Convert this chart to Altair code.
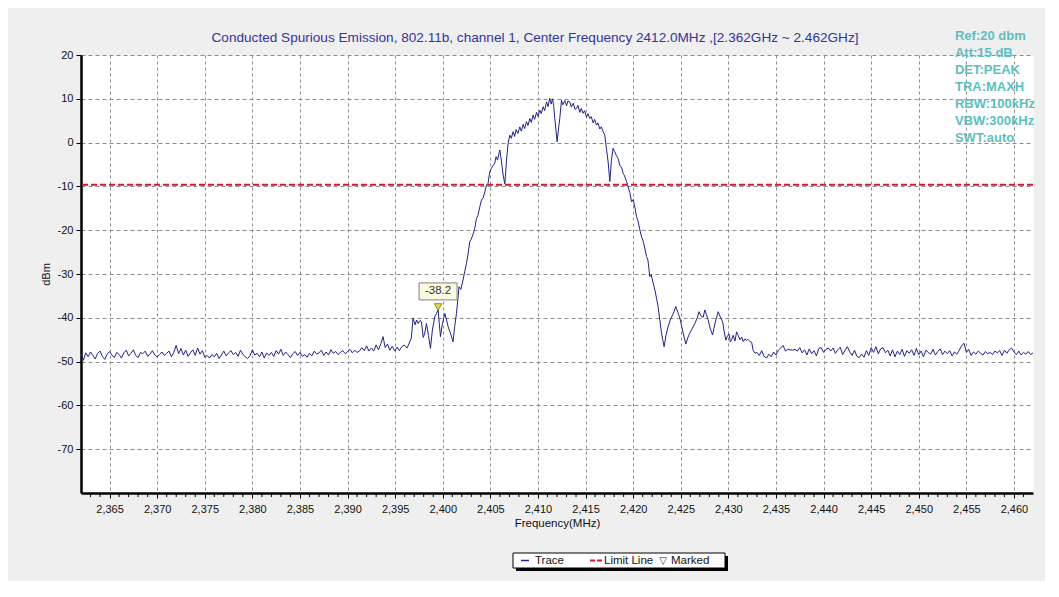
import altair as alt
import pandas as pd

# ---------------- text ----------------
TITLE = "Conducted Spurious Emission, 802.11b, channel 1, Center Frequency 2412.0MHz ,[2.362GHz ~ 2.462GHz]"
INFO_LINES = ["Ref:20 dbm", "Att:15 dB", "DET:PEAK", "TRA:MAXH", "RBW:100kHz", "VBW:300kHz", "SWT:auto"]
X_TITLE = "Frequency(MHz)"
Y_TITLE = "dBm"
LEGEND_LABELS = ["Trace", "Limit Line", "Marked"]

# ---------------- axes ----------------
F_DOMAIN = [2362, 2462]
DB_DOMAIN = [-80, 20]
X_TICKS = [2365, 2370, 2375, 2380, 2385, 2390, 2395, 2400, 2405, 2410,
           2415, 2420, 2425, 2430, 2435, 2440, 2445, 2450, 2455, 2460]
X_MINOR = [f for f in range(2363, 2462) if f % 5 != 0]
Y_TICKS = [20, 10, 0, -10, -20, -30, -40, -50, -60, -70]

# ---------------- limit / marker ----------------
LIMIT_DB = -9.6
MARK_F = 2399.51
MARK_DB = -38.2
INFO_F = 2453.8
INFO_DB = 25.6

# ---------------- trace ----------------
FLOOR_STEP = 0.25
FLOOR_LEFT_START = 2362.0
FLOOR_LEFT = [
    -48.2, -49.7, -48.0, -48.9, -47.8, -48.6, -49.4, -48.1,
    -47.6, -48.8, -49.5, -48.3, -47.7, -48.5, -49.1, -47.9,
    -48.4, -49.2, -48.0, -47.4, -48.7, -48.1, -47.3, -48.6,
    -49.1, -47.9, -48.2, -47.6, -48.8, -48.3, -47.5, -48.5,
    -48.9, -48.4, -47.8, -48.6, -48.1, -47.6, -48.9, -47.9,
    -46.3, -48.2, -47.0, -48.5, -47.4, -48.8, -48.0, -47.3,
    -48.6, -46.9, -48.3, -47.5, -49.0, -48.6, -49.2, -48.4,
    -48.9, -48.1, -49.3, -48.5, -47.6, -48.7, -48.0, -47.5,
    -48.4, -47.9, -48.8, -47.4, -48.3, -48.9, -49.3, -48.7,
    -47.3, -48.5, -48.1, -48.9, -47.8, -49.2, -48.0, -48.6,
    -47.9, -48.8, -47.5, -48.3, -47.2, -48.6, -47.8, -48.4,
    -49.1, -48.2, -47.7, -48.6, -47.9, -48.8, -48.4, -49.0,
    -48.1, -48.7, -47.6, -48.3, -48.0, -47.4, -48.6, -47.8,
    -48.5, -47.3, -48.1, -47.7, -48.4, -47.9, -47.5, -48.2,
    -47.8, -47.2, -48.0, -47.4, -47.9, -47.6, -46.8, -47.5,
    -46.4, -47.6,
]

SKIRT_F = [
    2392.5, 2392.75, 2393.0, 2393.25, 2393.5, 2393.73, 2393.95, 2394.2, 2394.43, 2394.7,
    2394.95, 2395.2, 2395.45, 2395.7, 2395.95, 2396.25, 2396.53, 2396.7, 2396.88, 2397.1,
    2397.25, 2397.41, 2397.6, 2397.76, 2397.95, 2398.11, 2398.29, 2398.5, 2398.71, 2398.9,
    2399.16, 2399.35, 2399.51, 2399.62, 2399.76, 2399.95, 2400.1, 2400.21, 2400.4, 2400.56,
    2400.8, 2401.08, 2401.25, 2401.44, 2401.6, 2401.71, 2401.9, 2402.13, 2402.3, 2402.49,
    2402.65, 2402.84, 2403.0, 2403.2, 2403.36, 2403.54, 2403.7, 2403.9, 2404.07, 2404.25,
    2404.41, 2404.59, 2404.76, 2404.94, 2405.1, 2405.3, 2405.46, 2405.6, 2405.75, 2405.99,
    2406.15, 2406.34, 2406.52, 2406.7, 2406.86, 2407.04, 2407.2, 2407.39, 2407.55, 2407.7,
    2407.9, 2408.09, 2408.25, 2408.45, 2408.6, 2408.79, 2408.95, 2409.15, 2409.3, 2409.49,
    2409.65, 2409.85, 2410.0, 2410.19, 2410.35, 2410.55, 2410.7, 2410.9, 2411.05, 2411.24,
    2411.4, 2411.53, 2411.65, 2411.77, 2412.01, 2412.15, 2412.29, 2412.47, 2412.6, 2412.82,
    2413.0, 2413.15, 2413.34, 2413.5, 2413.7, 2413.9, 2414.05, 2414.2, 2414.4, 2414.55,
    2414.74, 2414.9, 2415.1, 2415.25, 2415.45, 2415.6, 2415.8, 2415.95, 2416.15, 2416.3,
    2416.5, 2416.65, 2416.85, 2417.02, 2417.2, 2417.37, 2417.55, 2417.72, 2417.89, 2418.05,
    2418.25, 2418.42, 2418.6, 2418.8, 2418.94, 2419.1, 2419.3, 2419.47, 2419.65, 2419.83,
    2420.0, 2420.2, 2420.35, 2420.5, 2420.7, 2420.88, 2421.05, 2421.25, 2421.4, 2421.55,
    2421.75, 2421.9, 2422.1, 2422.3, 2422.45, 2422.62, 2422.8, 2422.98, 2423.1, 2423.25,
    2423.45, 2423.67, 2423.9, 2424.13, 2424.3, 2424.48, 2424.7, 2424.9, 2425.1, 2425.25,
    2425.4, 2425.53, 2425.75, 2425.95, 2426.2, 2426.48, 2426.7, 2426.93, 2427.1, 2427.35,
    2427.53, 2427.7, 2427.88, 2428.1, 2428.34, 2428.6, 2428.93, 2429.15, 2429.39, 2429.55,
    2429.74, 2429.9, 2430.08, 2430.2, 2430.33, 2430.5, 2430.7, 2430.86, 2431.05, 2431.21,
    2431.4, 2431.55, 2431.73, 2431.9, 2432.05, 2432.26, 2432.45, 2432.6, 2432.8,
]
SKIRT_DB = [
    -46.9, -47.6, -46.2, -47.3, -45.9, -44.3, -46.8, -46.0, -47.4, -46.5,
    -47.6, -46.7, -47.5, -46.6, -46.2, -46.9, -45.5, -44.6, -40.1, -41.6,
    -40.5, -41.3, -40.6, -40.9, -44.5, -43.5, -41.3, -44.0, -47.0, -43.0,
    -39.7, -39.0, -38.2, -41.0, -44.3, -41.5, -40.2, -39.0, -40.5, -42.0,
    -43.5, -45.5, -42.0, -39.0, -35.5, -32.9, -33.5, -31.4, -29.5, -27.6,
    -25.5, -22.6, -22.0, -20.8, -19.6, -17.3, -16.6, -14.6, -13.1, -12.6,
    -11.3, -9.7, -9.3, -6.6, -5.9, -5.2, -4.7, -3.2, -4.0, -1.7,
    -4.0, -7.4, -9.4, -4.0, -0.2, 1.7, 1.0, 2.5, 1.4, 3.0,
    2.1, 3.6, 2.6, 4.2, 3.2, 4.8, 3.9, 5.5, 4.6, 6.3,
    5.3, 6.9, 6.0, 7.4, 6.6, 8.2, 7.3, 9.3, 8.2, 10.1,
    8.8, 10.0, 8.5, 5.5, 0.2, 3.0, 5.5, 9.7, 8.6, 9.6,
    8.4, 9.5, 9.3, 8.1, 9.0, 7.6, 7.8, 8.5, 6.9, 7.8,
    6.7, 7.3, 5.8, 6.6, 5.5, 5.9, 4.5, 5.3, 4.0, 4.5,
    3.1, 3.6, 2.5, 1.7, -1.5, -4.4, -8.9, -4.0, -1.3, -2.0,
    -3.0, -3.6, -5.2, -5.8, -7.0, -7.6, -8.9, -10.1, -11.4, -13.5,
    -13.0, -15.0, -16.9, -17.8, -19.9, -21.5, -22.5, -24.3, -26.0, -26.8,
    -30.6, -30.2, -32.1, -33.8, -35.5, -37.4, -40.5, -43.5, -45.0, -46.6,
    -44.0, -42.0, -40.5, -39.4, -38.5, -37.4, -38.8, -40.0, -42.0, -43.5,
    -44.8, -46.0, -44.5, -43.5, -42.5, -41.3, -40.2, -38.6, -39.5, -39.9,
    -38.2, -39.3, -40.5, -42.5, -43.9, -41.2, -38.6, -39.8, -40.9, -43.0,
    -45.1, -44.2, -43.7, -45.5, -45.1, -44.0, -45.3, -43.2, -44.1, -45.0,
    -44.4, -45.4, -44.8, -45.2, -44.9, -45.4, -45.6, -47.4, -48.1,
]

FLOOR_RIGHT_START = 2433.0
FLOOR_RIGHT = [
    -47.9, -48.6, -47.5, -48.8, -49.2, -48.3, -48.9, -47.8,
    -48.5, -47.4, -46.9, -46.3, -47.6, -47.2, -47.3, -47.4,
    -47.2, -47.6, -46.8, -48.0, -47.3, -48.5, -47.1, -48.2,
    -47.5, -48.7, -47.0, -46.8, -47.9, -47.2, -46.9, -47.6,
    -46.9, -48.1, -47.3, -46.7, -48.4, -47.5, -46.6, -47.8,
    -48.6, -47.4, -48.8, -49.1, -48.3, -49.0, -47.5, -48.6,
    -46.8, -47.9, -46.6, -48.2, -47.1, -46.8, -48.0, -47.4,
    -48.7, -47.3, -48.9, -47.6, -48.4, -47.2, -48.8, -47.5,
    -48.1, -47.3, -48.6, -47.0, -48.4, -47.6, -48.9, -47.4,
    -47.9, -48.3, -47.2, -48.5, -47.7, -47.1, -48.4, -47.6,
    -48.2, -47.5, -48.7, -47.8, -48.3, -47.4, -46.4, -45.8,
    -47.9, -47.2, -48.6, -47.8, -48.3, -47.6, -48.1, -48.5,
    -47.7, -48.2, -47.9, -48.4, -47.6, -48.0, -47.5, -48.6,
    -47.4, -48.1, -47.3, -46.9, -47.8, -48.4, -47.6, -48.5,
    -47.9, -48.3, -47.7, -48.4, -48.0,
]

# ---------------- colours ----------------
TRACE_COLOR = "#22228a"
LIMIT_COLOR = "#dc1432"
TITLE_COLOR = "#333399"
INFO_COLOR = "#5cbfbf"
GRID_COLOR = "#8c8c8c"
BG_COLOR = "#efefef"

# ---------------- data frames ----------------
left_f = [FLOOR_LEFT_START + i * FLOOR_STEP for i in range(len(FLOOR_LEFT))]
right_f = [FLOOR_RIGHT_START + i * FLOOR_STEP for i in range(len(FLOOR_RIGHT))]
trace = pd.DataFrame({"f": left_f + SKIRT_F + right_f,
                      "db": FLOOR_LEFT + SKIRT_DB + FLOOR_RIGHT})
trace["i"] = range(len(trace))

limit_df = pd.DataFrame({"db": [LIMIT_DB]})
mark_df = pd.DataFrame({"f": [MARK_F], "db": [MARK_DB]})
info_df = pd.DataFrame({"f": [INFO_F], "db": [INFO_DB], "t": ["\n".join(INFO_LINES)]})
minor_df = pd.DataFrame({"f": X_MINOR})

W, H = 952, 438

x_enc = alt.X("f:Q", scale=alt.Scale(domain=F_DOMAIN, nice=False, zero=False),
              axis=alt.Axis(values=X_TICKS, format=",d", title=X_TITLE,
                            grid=True, gridColor=GRID_COLOR, gridDash=[3, 3], gridWidth=1,
                            domainColor="black", domainWidth=2.5,
                            tickColor="black", tickSize=5, tickWidth=1,
                            labelFontSize=11, labelColor="#111", labelPadding=5,
                            titleFontSize=11.5, titleFontWeight="normal", titleColor="#111",
                            titlePadding=3, labelFlush=False))
y_enc = alt.Y("db:Q", scale=alt.Scale(domain=DB_DOMAIN, nice=False, zero=False),
              axis=alt.Axis(values=Y_TICKS, title=Y_TITLE,
                            grid=True, gridColor=GRID_COLOR, gridDash=[4, 3], gridWidth=1,
                            domainColor="black", domainWidth=2.5,
                            tickColor="black", tickSize=5, tickWidth=1,
                            labelFontSize=11, labelColor="#111", labelPadding=3,
                            titleFontSize=11, titleFontWeight="normal", titleColor="#111",
                            titlePadding=6, labelFlush=False))

trace_line = alt.Chart(trace).mark_line(color=TRACE_COLOR, strokeWidth=1, clip=True).encode(
    x=x_enc, y=y_enc, order="i:Q")

limit_rule = alt.Chart(limit_df).mark_rule(color=LIMIT_COLOR, strokeWidth=2, strokeDash=[6, 3]).encode(
    y="db:Q")

minor_ticks = alt.Chart(minor_df).mark_rule(color="black", strokeWidth=1).encode(
    x="f:Q", y=alt.value(H + 1), y2=alt.value(H + 4))

label_box = alt.Chart(mark_df).mark_rect(fill="#fbf9de", stroke="#808080", strokeWidth=1,
                                         xOffset=-19, x2Offset=19, yOffset=-27, y2Offset=-10).encode(
    x="f:Q", x2="f", y="db:Q", y2="db")
label_text = alt.Chart(mark_df).mark_text(fontSize=11.5, color="#333", dy=-18.5).encode(
    x="f:Q", y="db:Q", text=alt.Text("db:Q", format=".1f"))
marker = alt.Chart(mark_df).mark_point(shape="triangle-down", size=55, filled=True,
                                       fill="#e6dc3c", stroke="#8f8a20", strokeWidth=1,
                                       opacity=1, yOffset=-3).encode(x="f:Q", y="db:Q")

info = alt.Chart(info_df).mark_text(align="left", baseline="top", lineBreak="\n", lineHeight=17,
                                    fontSize=13, fontWeight="bold", color=INFO_COLOR).encode(
    x="f:Q", y="db:Q", text="t:N")

# chart title, drawn as text so that the info block does not push it up
title_mark = alt.Chart().mark_text(fontSize=13.6, color=TITLE_COLOR, baseline="middle", align="center").encode(
    x=alt.value(454), y=alt.value(-17), text=alt.value(TITLE))

# ---------------- legend box (bottom) ----------------
LX0, LX1, LY0, LY1 = 432, 644, 498, 513
legend_shadow = alt.Chart().mark_rect(color="black").encode(
    x=alt.value(LX0 + 3), x2=alt.value(LX1 + 3), y=alt.value(LY0 + 3), y2=alt.value(LY1 + 3))
legend_box = alt.Chart().mark_rect(fill="white", stroke="black", strokeWidth=1).encode(
    x=alt.value(LX0), x2=alt.value(LX1), y=alt.value(LY0), y2=alt.value(LY1))
LYM = (LY0 + LY1) / 2
leg_trace_glyph = alt.Chart().mark_rule(color=TRACE_COLOR, strokeWidth=1.5).encode(
    x=alt.value(440), x2=alt.value(448), y=alt.value(LYM), y2=alt.value(LYM))
leg_limit_glyph = alt.Chart().mark_rule(color=LIMIT_COLOR, strokeWidth=2, strokeDash=[5, 2]).encode(
    x=alt.value(509), x2=alt.value(521), y=alt.value(LYM), y2=alt.value(LYM))
leg_mark_glyph = alt.Chart().mark_text(fontSize=10, font="DejaVu Sans", color="#222", baseline="middle").encode(
    x=alt.value(582), y=alt.value(LYM), text=alt.value("\u25bd"))
leg_t1 = alt.Chart().mark_text(align="left", baseline="middle", fontSize=11.5, color="#111").encode(
    x=alt.value(454), y=alt.value(LYM), text=alt.value(LEGEND_LABELS[0]))
leg_t2 = alt.Chart().mark_text(align="left", baseline="middle", fontSize=11.5, color="#111").encode(
    x=alt.value(523), y=alt.value(LYM), text=alt.value(LEGEND_LABELS[1]))
leg_t3 = alt.Chart().mark_text(align="left", baseline="middle", fontSize=11.5, color="#111").encode(
    x=alt.value(590), y=alt.value(LYM), text=alt.value(LEGEND_LABELS[2]))

chart = alt.layer(
    trace_line, limit_rule, minor_ticks, label_box, label_text, marker, info, title_mark,
    legend_shadow, legend_box, leg_trace_glyph, leg_limit_glyph, leg_mark_glyph,
    leg_t1, leg_t2, leg_t3,
).properties(
    width=W, height=H,
    background=BG_COLOR,
    autosize=alt.AutoSizeParams(type="none"),
    padding={"left": 73, "top": 47, "right": 12, "bottom": 88},
).configure(
    font="Liberation Sans",
    locale={"number": {"decimal": ".", "thousands": ",", "grouping": [3],
                       "currency": ["$", ""], "minus": "-"}},
).configure_view(fill="white", stroke="transparent")

chart.save("out.html", embed_options={"renderer": "svg", "actions": False})
